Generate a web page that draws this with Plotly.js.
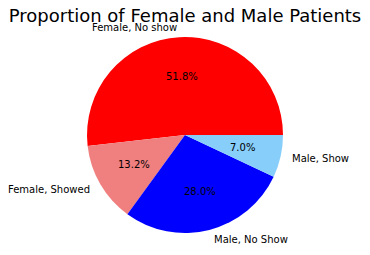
<!DOCTYPE html>
<html>
<head>
<meta charset="utf-8">
<script src="https://cdn.plot.ly/plotly-3.0.1.min.js"></script>
<style>html,body{margin:0;padding:0;background:#fff;}#chart{width:370px;height:255px;}</style>
</head>
<body>
<div id="chart"></div>
<script>
var labels = ["Female, No show", "Female, Showed", "Male, No Show", "Male, Show"];
var values = [51.8, 13.2, 28.0, 7.0];
var colors = ["red", "lightcoral", "blue", "lightskyblue"];

var W = 370, H = 255, T = 37, B = 22;
var plotH = H - T - B;
var R = Math.min(W, plotH) / 2;

var total = values.reduce(function(a, b){ return a + b; }, 0);
var annotations = [];
var start = 0;
var font = {family: "DejaVu Sans", size: 10, color: "black"};
for (var i = 0; i < values.length; i++) {
  var frac = values[i] / total;
  var mid = (start + frac / 2) * 2 * Math.PI;
  start += frac;
  var cx = Math.cos(mid), cy = Math.sin(mid);
  annotations.push({
    xref: "paper", yref: "paper",
    x: 0.5 + 1.1 * R * cx / W, y: 0.5 + 1.1 * R * cy / plotH,
    text: labels[i], showarrow: false,
    xanchor: cx > 0 ? "left" : "right", yanchor: "middle",
    font: font
  });
  annotations.push({
    xref: "paper", yref: "paper",
    x: 0.5 + 0.6 * R * cx / W, y: 0.5 + 0.6 * R * cy / plotH,
    text: (100 * frac).toFixed(1) + "%", showarrow: false,
    xanchor: "center", yanchor: "middle",
    font: font
  });
}

// Plotly (counterclockwise): the first slice covers clockwise-from-12 angles
// [rotation, rotation + its sweep]. Matplotlib starts slice 1 at 3 o'clock (90) going CCW,
// so its far edge is at 90 and rotation = 90 - sweep.
var rotation = 90 - 360 * values[0] / total;

var data = [{
  type: "pie",
  labels: labels,
  values: values,
  marker: {colors: colors, line: {width: 0}},
  sort: false,
  direction: "counterclockwise",
  rotation: rotation,
  textinfo: "none",
  hoverinfo: "none",
  showlegend: false
}];

var layout = {
  width: W, height: H,
  margin: {l: 0, r: 0, t: T, b: B, pad: 0},
  paper_bgcolor: "white",
  title: {
    text: "Proportion of Female and Male Patients",
    font: {family: "DejaVu Sans", size: 18, color: "black"},
    x: 0.5, xanchor: "center", xref: "paper",
    y: 1 - 16 / H, yanchor: "middle", yref: "container"
  },
  annotations: annotations,
  showlegend: false
};

Plotly.newPlot("chart", data, layout, {staticPlot: true, displayModeBar: false});
</script>
</body>
</html>
